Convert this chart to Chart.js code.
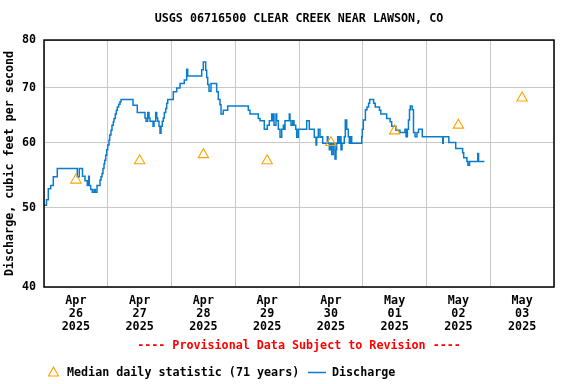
<!DOCTYPE html>
<html>
<head>
<meta charset="utf-8">
<script src="https://cdn.jsdelivr.net/npm/chart.js@4.4.1/dist/chart.umd.min.js"></script>
<style>
  html, body { margin: 0; padding: 0; background: #fff; }
  #wrap { width: 576px; height: 384px; }
</style>
</head>
<body>
<div id="wrap"><canvas id="chart" width="576" height="384"></canvas></div>
<script>
// site + axis text
const stationTitle = "USGS 06716500 CLEAR CREEK NEAR LAWSON, CO";
const yTitle = "Discharge, cubic feet per second";
const provisionalNote = "---- Provisional Data Subject to Revision ----";
const medianLabel = "Median daily statistic (71 years)";
const flowLabel = "Discharge";

// day labels (x axis runs in hours from Apr 26 00:00)
const months = ["Apr", "Apr", "Apr", "Apr", "Apr", "May", "May", "May"];
const dates = ["26", "27", "28", "29", "30", "01", "02", "03"];
const year = "2025";
const yTicks = [40, 50, 60, 70, 80];

// median daily statistic, one per day at noon
const medianHours = [12, 36, 60, 84, 108, 132, 156, 180];
const medianCfs = [54, 57, 58, 57, 60, 62, 63, 68];

// discharge (hour offset, cfs)
const flowHours = [0, 0.94, 1.62, 2.52, 3.50, 5.00, 12.54, 13.29, 14.49, 15.44,
  16.30, 16.83, 17.05, 17.58, 18.18, 18.82, 19.31, 19.95, 21.08, 21.46,
  21.84, 22.21, 22.59, 22.85, 23.23, 23.60, 23.98, 24.47, 24.73, 25.22,
  25.60, 26.09, 26.35, 26.84, 27.22, 27.60, 28.12, 28.61, 28.99, 33.51,
  35.12, 38.02, 38.40, 39.04, 39.53, 39.91, 41.04, 41.41, 42.05, 42.43,
  42.80, 43.29, 43.67, 44.05, 44.54, 44.91, 45.29, 45.82, 46.19, 46.57,
  48.68, 49.96, 51.20, 52.82, 53.72, 54.10, 59.37, 59.97, 60.87, 61.25,
  61.63, 62.12, 62.87, 65.01, 65.62, 66.26, 66.64, 67.50, 69.16, 76.91,
  77.55, 80.67, 81.32, 82.93, 84.06, 84.82, 85.72, 85.95, 86.32, 86.59,
  87.34, 87.60, 88.21, 88.85, 89.49, 90.09, 90.47, 90.73, 92.35, 92.61,
  92.99, 93.63, 94.12, 94.76, 95.14, 95.74, 98.90, 99.88, 101.76, 102.40,
  102.66, 103.27, 103.91, 104.55, 104.92, 106.65, 106.92, 107.41, 107.93, 108.31,
  108.91, 109.55, 109.93, 110.19, 110.57, 111.06, 111.44, 111.81, 112.19, 113.05,
  113.43, 113.96, 114.56, 114.94, 115.47, 115.84, 119.61, 119.83, 120.21, 121.0,
  121.6, 122.2, 122.6, 124.1, 124.7, 126.3, 126.8, 129.0, 130.3, 130.9,
  132.5, 134.0, 135.9, 136.3, 136.8, 137.2, 137.6, 137.9, 138.6, 139.1,
  139.7, 140.4, 141.0, 142.4, 150.1, 150.3, 152.4, 155.0, 157.6, 158.0,
  159.2, 159.6, 160.2, 163.3, 163.6, 165.8];
const flowCfs = [50.3, 51.1, 52.7, 53.2, 54.5, 55.8, 54.5, 55.8, 54.6, 53.9,
  53.2, 54.6, 53.2, 52.6, 52.2, 52.6, 52.2, 53.2, 54.0, 54.5,
  55.0, 55.8, 56.5, 57.1, 57.9, 58.8, 59.6, 60.4, 61.3, 62.1,
  63.0, 63.6, 64.2, 65.0, 65.7, 66.3, 66.8, 67.3, 67.7, 66.6,
  65.3, 64.3, 63.7, 65.3, 64.3, 63.7, 62.8, 63.7, 65.3, 64.3,
  63.7, 62.8, 61.6, 62.8, 63.7, 64.3, 65.3, 66.0, 67.0, 67.7,
  69.2, 69.9, 70.8, 71.5, 73.7, 72.3, 73.6, 75.2, 73.5, 72.0,
  70.6, 69.3, 70.8, 69.2, 67.7, 66.7, 65.0, 65.7, 66.5, 65.7,
  65.0, 64.2, 63.8, 62.3, 63.0, 63.8, 65.0, 63.8, 65.0, 63.0,
  65.0, 63.8, 62.3, 60.9, 62.3, 63.0, 62.3, 63.8, 65.0, 63.8,
  63.0, 63.8, 63.0, 62.3, 60.9, 62.3, 63.8, 62.3, 60.9, 59.6,
  60.9, 62.3, 60.9, 61.0, 59.9, 61.0, 59.9, 58.8, 59.9, 58.0,
  59.9, 57.3, 58.8, 59.9, 61.0, 59.9, 61.0, 58.8, 59.9, 61.0,
  63.9, 62.3, 61.0, 59.9, 61.0, 59.9, 61.0, 62.3, 63.9, 65.8,
  66.3, 67.0, 67.7, 67.0, 66.3, 65.7, 65.0, 64.2, 63.6, 62.8,
  62.1, 61.7, 62.3, 61.0, 62.3, 63.9, 65.8, 66.5, 65.8, 61.7,
  61.0, 61.7, 62.3, 61.0, 59.9, 61.0, 60.0, 59.0, 58.3, 57.5,
  56.9, 56.3, 56.9, 58.2, 56.9, 56.9];

const MONO = "'DejaVu Sans Mono', 'Liberation Mono', monospace";
const FS = 11.7;
const FLOW_COLOR = "#0a7ccf";
const MEDIAN_COLOR = "#ffa500";
const GRID = "#c8c8c8";

// frame, provisional note and legend
const extras = {
  id: "extras",
  afterDraw(chart) {
    const ctx = chart.ctx;
    const a = chart.chartArea;
    ctx.save();
    ctx.strokeStyle = "#000";
    ctx.lineWidth = 1.5;
    ctx.strokeRect(a.left, a.top, a.right - a.left, a.bottom - a.top);

    ctx.font = "bold " + FS + "px " + MONO;
    ctx.textBaseline = "middle";
    ctx.textAlign = "center";
    ctx.fillStyle = "#ff0000";
    ctx.fillText(provisionalNote, (a.left + a.right) / 2, 346);

    // legend
    const ly = 372.5;
    ctx.strokeStyle = MEDIAN_COLOR;
    ctx.lineWidth = 1.1;
    ctx.beginPath();
    ctx.moveTo(53.5, ly - 5.5);
    ctx.lineTo(58.5, ly + 3.5);
    ctx.lineTo(48.5, ly + 3.5);
    ctx.closePath();
    ctx.stroke();
    ctx.textAlign = "left";
    ctx.fillStyle = "#000";
    ctx.fillText(medianLabel, 67, ly);
    ctx.strokeStyle = FLOW_COLOR;
    ctx.lineWidth = 1.5;
    ctx.beginPath();
    ctx.moveTo(308, ly);
    ctx.lineTo(326, ly);
    ctx.stroke();
    ctx.fillText(flowLabel, 332, ly);
    ctx.restore();
  }
};

new Chart(document.getElementById("chart"), {
  type: "line",
  data: {
    datasets: [
      {
        label: medianLabel,
        data: medianHours.map((h, i) => ({ x: h, y: medianCfs[i] })),
        showLine: false,
        pointStyle: "triangle",
        pointRadius: 6,
        pointBorderWidth: 1.1,
        pointBorderColor: MEDIAN_COLOR,
        pointBackgroundColor: "rgba(0,0,0,0)"
      },
      {
        label: flowLabel,
        data: flowHours.map((h, i) => ({ x: h, y: flowCfs[i] })),
        stepped: "before",
        borderColor: FLOW_COLOR,
        borderWidth: 1.5,
        pointRadius: 0,
        fill: false
      }
    ]
  },
  options: {
    responsive: false,
    animation: false,
    layout: { padding: { right: 22 } },
    plugins: {
      legend: { display: false },
      tooltip: { enabled: false },
      title: {
        display: true,
        text: stationTitle,
        fullSize: false,
        color: "#000",
        font: { family: MONO, size: FS, weight: "bold" },
        padding: { top: 12, bottom: 14 }
      }
    },
    scales: {
      x: {
        type: "linear",
        min: 0,
        max: 192,
        afterBuildTicks: (s) => {
          s.ticks = [];
          for (let h = 0; h <= 192; h += 12) s.ticks.push({ value: h });
        },
        afterFit: (s) => { s.height = 97; },
        grid: {
          color: (c) => (c.tick && c.tick.value % 24 === 0 ? GRID : "rgba(0,0,0,0)"),
          lineWidth: 1,
          drawTicks: false
        },
        border: { display: false },
        ticks: {
          autoSkip: false,
          maxRotation: 0,
          padding: 8,
          color: "#000",
          font: { family: MONO, size: FS, weight: "bold", lineHeight: 1.08 },
          callback: (v) => {
            if (v % 24 !== 12) return "";
            const i = (v - 12) / 24;
            return [months[i], dates[i], year];
          }
        }
      },
      y: {
        type: "logarithmic",
        min: 40,
        max: 80,
        afterBuildTicks: (s) => { s.ticks = yTicks.map((v) => ({ value: v })); },
        afterFit: (s) => { s.width = 44; },
        grid: { color: GRID, lineWidth: 1, drawTicks: false },
        border: { display: false },
        ticks: {
          padding: 8,
          color: "#000",
          font: { family: MONO, size: FS, weight: "bold" },
          callback: (v) => String(v)
        },
        title: {
          display: true,
          text: yTitle,
          color: "#000",
          font: { family: MONO, size: FS, weight: "bold" },
          padding: { top: 3, bottom: 0 }
        }
      }
    }
  },
  plugins: [extras]
});
</script>
</body>
</html>
